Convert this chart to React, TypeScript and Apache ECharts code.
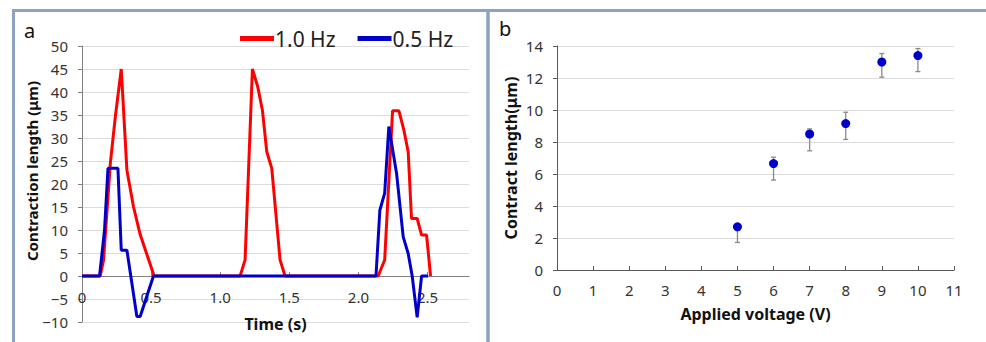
import React, { useEffect, useRef } from "react";
import * as echarts from "echarts";

// Panel a: contraction length vs time, [time s, length μm]
const red10Hz: [number, number][] = [
  [0, 0], [0.132, 0], [0.156, 3.5], [0.205, 24.5], [0.241, 34.6], [0.284, 45.0],
  [0.325, 23.0], [0.373, 15.0], [0.421, 9.0], [0.522, 0], [1.144, 0], [1.18, 3.5],
  [1.233, 45.0], [1.271, 41.2], [1.305, 36.1], [1.337, 27.0], [1.373, 23.4], [1.433, 3.5],
  [1.469, 0], [2.143, 0], [2.19, 3.5], [2.247, 35.9], [2.293, 35.9], [2.329, 31.7],
  [2.36, 27.0], [2.384, 12.5], [2.425, 12.5], [2.457, 8.9], [2.493, 8.9], [2.522, 0],
];
const blue05Hz: [number, number][] = [
  [0, 0], [0.127, 0], [0.163, 10.0], [0.188, 23.4], [0.26, 23.4], [0.284, 5.6],
  [0.325, 5.6], [0.397, -8.8], [0.421, -8.8], [0.517, 0], [2.127, 0], [2.155, 14.3],
  [2.19, 18.0], [2.22, 32.5], [2.276, 22.3], [2.324, 8.5], [2.36, 4.9], [2.389, 0],
  [2.425, -9.0], [2.457, 0], [2.504, 0],
];
const timeTicks = [0, 0.5, 1.0, 1.5, 2.0, 2.5];

// Panel b: contract length vs applied voltage
const voltages = [5, 6, 7, 8, 9, 10];
const lengths = [2.7, 6.65, 8.5, 9.15, 13.0, 13.4];
const errLow = [1.72, 5.62, 7.45, 8.16, 12.05, 12.4];
const errHigh = [2.9, 7.05, 8.82, 9.86, 13.53, 13.84];

const FONT = "'Noto Sans', 'Noto Sans CJK JP', sans-serif";
const BORDER = "#8ea4be";

export default function App() {
  const ref = useRef<HTMLDivElement>(null);
  useEffect(() => {
    if (!ref.current) return;
    const chart = echarts.init(ref.current, null, { renderer: "svg" });
    const errData = voltages.map((v, i) => [v, errLow[i], errHigh[i]]);
    const option: any = {
      animation: false,
      backgroundColor: "#ffffff",
      textStyle: { fontFamily: FONT },
      legend: {
        left: 235,
        top: 23,
        itemWidth: 34,
        itemHeight: 5,
        itemGap: 22,
        icon: "rect",
        textStyle: { fontSize: 21, color: "#222", fontFamily: FONT, padding: [0, 0, 0, -4] },
        data: ["1.0 Hz", "0.5 Hz"],
      },
      grid: [
        { left: 82, top: 46, width: 387, height: 276, outerBoundsMode: "none", containLabel: false },
        { left: 557, top: 46, width: 397, height: 224, outerBoundsMode: "none", containLabel: false },
      ],
      xAxis: [
        {
          gridIndex: 0,
          type: "value",
          min: 0,
          max: 2.8,
          interval: 0.5,
          position: "bottom",
          offset: -46,
          name: "Time (s)",
          nameLocation: "middle",
          nameGap: 40,
          nameTextStyle: { fontSize: 16, fontWeight: "bold", color: "#111", fontFamily: FONT },
          axisLine: { onZero: false, lineStyle: { color: "#808080", width: 1 } },
          axisTick: { show: true, inside: true, length: 4, customValues: timeTicks, lineStyle: { color: "#808080" } },
          axisLabel: {
            customValues: timeTicks,
            formatter: (v: number) => (v === 0 ? "0" : v.toFixed(1)),
            fontSize: 15,
            color: "#333",
            margin: 13,
            fontFamily: FONT,
          },
          splitLine: { show: false },
        },
        {
          gridIndex: 1,
          type: "value",
          min: 0,
          max: 11,
          interval: 1,
          name: "Applied voltage (V)",
          nameLocation: "middle",
          nameGap: 36,
          nameTextStyle: { fontSize: 16, fontWeight: "bold", color: "#111", fontFamily: FONT },
          axisLine: { lineStyle: { color: "#595959", width: 1 } },
          axisTick: { show: true, inside: true, length: 4, lineStyle: { color: "#595959" } },
          axisLabel: { fontSize: 15, color: "#333", margin: 12, fontFamily: FONT },
          splitLine: { show: false },
        },
      ],
      yAxis: [
        {
          gridIndex: 0,
          type: "value",
          min: -10,
          max: 50,
          interval: 5,
          axisLine: { show: true, onZero: false, lineStyle: { color: "#808080" } },
          axisTick: { show: true, length: 4, lineStyle: { color: "#808080" } },
          axisLabel: {
            formatter: (v: number) => (v < 0 ? "\u2212" + Math.abs(v) : String(v)),
            fontSize: 15,
            color: "#333",
            margin: 14,
            fontFamily: FONT,
          },
          splitLine: { show: true, lineStyle: { color: "#dcdcdc", width: 1 } },
        },
        {
          gridIndex: 1,
          type: "value",
          min: 0,
          max: 14,
          interval: 2,
          name: "Contract length(\u03bcm)",
          nameLocation: "middle",
          nameGap: 38,
          nameTextStyle: { fontSize: 16, fontWeight: "bold", color: "#111", fontFamily: FONT },
          axisLine: { show: true, lineStyle: { color: "#595959" } },
          axisTick: { show: true, length: 4, lineStyle: { color: "#595959" } },
          axisLabel: { fontSize: 15, color: "#333", margin: 14, fontFamily: FONT },
          splitLine: { show: true, lineStyle: { color: "#dcdcdc", width: 1 } },
        },
      ],
      series: [
        {
          name: "1.0 Hz",
          type: "line",
          xAxisIndex: 0,
          yAxisIndex: 0,
          data: red10Hz,
          showSymbol: false,
          symbol: "none",
          color: "#ff0000",
          lineStyle: { color: "#ff0000", width: 3 },
          z: 3,
        },
        {
          name: "0.5 Hz",
          type: "line",
          xAxisIndex: 0,
          yAxisIndex: 0,
          data: blue05Hz,
          showSymbol: false,
          symbol: "none",
          color: "#0000c8",
          lineStyle: { color: "#0000c8", width: 3 },
          z: 4,
        },
        {
          type: "custom",
          xAxisIndex: 1,
          yAxisIndex: 1,
          data: errData,
          z: 3,
          renderItem: (params: any, api: any) => {
            const x = api.value(0);
            const lo = api.coord([x, api.value(1)]);
            const hi = api.coord([x, api.value(2)]);
            const cap = 2.5;
            const style = { stroke: "#8a8a8a", lineWidth: 1.3 };
            return {
              type: "group",
              children: [
                { type: "line", shape: { x1: lo[0], y1: lo[1], x2: hi[0], y2: hi[1] }, style },
                { type: "line", shape: { x1: lo[0] - cap, y1: lo[1], x2: lo[0] + cap, y2: lo[1] }, style },
                { type: "line", shape: { x1: hi[0] - cap, y1: hi[1], x2: hi[0] + cap, y2: hi[1] }, style },
              ],
            };
          },
        },
        {
          type: "scatter",
          xAxisIndex: 1,
          yAxisIndex: 1,
          data: voltages.map((v, i) => [v, lengths[i]]),
          symbol: "circle",
          symbolSize: 9,
          itemStyle: { color: "#0000cd", opacity: 1 },
          z: 5,
        },
      ],
      graphic: [
        { type: "line", shape: { x1: 12, y1: 10.5, x2: 986, y2: 10.5 }, style: { stroke: BORDER, lineWidth: 3 } },
        { type: "line", shape: { x1: 13.5, y1: 9, x2: 13.5, y2: 342 }, style: { stroke: BORDER, lineWidth: 3 } },
        { type: "line", shape: { x1: 488, y1: 9, x2: 488, y2: 342 }, style: { stroke: BORDER, lineWidth: 3.5 } },
        {
          type: "text",
          left: 24,
          top: 20,
          style: { text: "a", fontSize: 20, fill: "#111", fontFamily: FONT },
        },
        {
          type: "text",
          left: 499,
          top: 18,
          style: { text: "b", fontSize: 20, fill: "#111", fontFamily: FONT },
        },
        {
          type: "text",
          x: 32,
          y: 171,
          rotation: Math.PI / 2,
          style: {
            text: "Contraction length (\u03bcm)",
            fontSize: 15,
            fontWeight: "bold",
            fill: "#111",
            fontFamily: FONT,
            align: "center",
            verticalAlign: "middle",
          },
        },
      ],
    };
    chart.setOption(option);
    return () => chart.dispose();
  }, []);
  return (
    <div
      ref={ref}
      style={{ position: "fixed", left: 0, top: 0, width: 986, height: 342 }}
    />
  );
}
